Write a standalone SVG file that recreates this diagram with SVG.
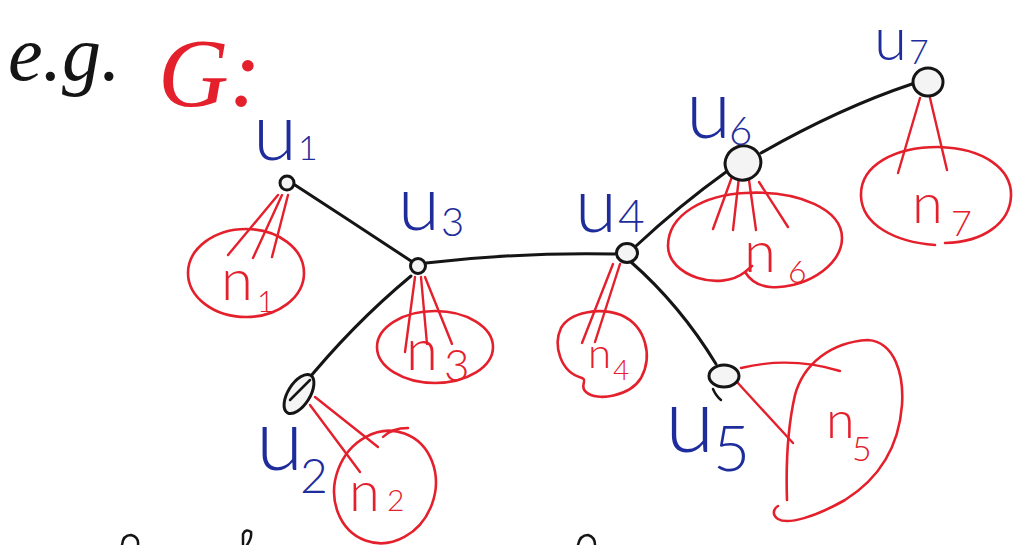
<svg xmlns="http://www.w3.org/2000/svg" width="1013" height="545" viewBox="0 0 1013 545">
  <style>
    .edge { fill: none; stroke: #151515; stroke-width: 3; stroke-linecap: round; }
    .node { fill: #f4f4f4; stroke: #151515; stroke-width: 3; }
    .set { fill: none; stroke: #e4202c; stroke-width: 2.6; stroke-linecap: round; stroke-linejoin: round; }
    .tie { fill: none; stroke: #e4202c; stroke-width: 2.4; stroke-linecap: round; }
    .ink { fill: none; stroke: #151515; stroke-width: 2.5; stroke-linecap: round; }
    .ul { font-family: Lato, "Liberation Sans", sans-serif; font-weight: 300; fill: #1f2d9c; }
    .nl { font-family: Lato, "Liberation Sans", sans-serif; font-weight: 300; fill: #e4202c; }
    .hd { font-family: "Liberation Serif", serif; font-style: italic; }
  </style>
  <rect width="1013" height="545" fill="#ffffff"/>

  <!-- heading -->
  <text class="hd" x="8" y="80" font-size="78" fill="#151515">e.g.</text>
  <text class="hd" x="158" y="106" font-size="98" fill="#e4202c">G:</text>

  <!-- tree edges -->
  <g id="connectors">
    <path class="edge" d="M295,185 Q352,222 411,261"/>
    <path class="edge" d="M426,263 Q520,252 615,254"/>
    <path class="edge" d="M411,276 Q352,325 301,388"/>
    <path class="edge" d="M636,246 Q680,205 726,172"/>
    <path class="edge" d="M761,153 Q840,108 912,84"/>
    <path class="edge" d="M631,262 Q680,305 716,364"/>
  </g>

  <!-- red subsets hanging from each vertex -->
  <g id="set-n1">
    <ellipse class="set" cx="246" cy="273" rx="58" ry="44"/>
    <path class="tie" d="M278,195 L228,255 M282,195 L253,258 M288,195 L272,257"/>
    <text class="nl" x="221" y="300" font-size="58">n</text>
    <text class="nl" x="257" y="312" font-size="30">1</text>
  </g>
  <g id="set-n3">
    <ellipse class="set" cx="435" cy="347" rx="58" ry="36"/>
    <path class="tie" d="M415,277 L405,352 M421,277 L427,344 M425,277 L452,344"/>
    <text class="nl" x="406" y="370" font-size="58">n</text>
    <text class="nl" x="444" y="381" font-size="44">3</text>
  </g>
  <g id="set-n2">
    <ellipse class="set" cx="385" cy="487" rx="50" ry="57" transform="rotate(20 385 487)"/>
    <path class="tie" d="M315,397 L378,447 M310,405 L360,472 M383,437 Q392,428 408,428"/>
    <text class="nl" x="349" y="511" font-size="56">n</text>
    <text class="nl" x="387" y="511" font-size="30">2</text>
  </g>
  <g id="set-n4">
    <path class="set" d="M582,378 C560,372 553,345 561,328 C570,312 600,307 621,315 C646,326 653,356 641,378 C630,396 597,402 586,392 C579,386 588,380 582,378 Z"/>
    <path class="tie" d="M613,264 L582,343 M620,264 L595,342"/>
    <text class="nl" x="588" y="368" font-size="42">n</text>
    <text class="nl" x="613" y="380" font-size="28">4</text>
  </g>
  <g id="set-n5">
    <path class="set" d="M787,500 C786,470 787,430 795,395 C803,365 830,342 868,340 C895,342 904,375 902,405 C899,445 880,478 845,500 C815,517 788,525 778,519 C772,515 773,509 778,506"/>
    <path class="tie" d="M741,368 Q790,356 840,371 M737,382 L793,443"/>
    <text class="nl" x="826" y="438" font-size="52">n</text>
    <text class="nl" x="852" y="461" font-size="34">5</text>
  </g>
  <g id="set-n6">
    <path class="set" d="M745,272 C720,292 668,276 668,246 C668,214 705,195 745,193 C800,190 842,210 842,238 C842,268 800,290 770,287 C758,286 750,280 745,272 M745,272 L752,266"/>
    <path class="tie" d="M733,174 L713,229 M739,177 L733,230 M749,180 L756,230 M759,182 L788,227"/>
    <text class="nl" x="744" y="272" font-size="58">n</text>
    <text class="nl" x="788" y="283" font-size="32">6</text>
  </g>
  <g id="set-n7">
    <path class="set" d="M935,245 C895,242 862,225 861,196 C860,165 895,147 938,147 C985,148 1012,170 1011,196 C1010,222 985,242 945,243"/>
    <path class="tie" d="M920,98 L898,173 M930,98 L947,170"/>
    <text class="nl" x="912" y="223" font-size="56">n</text>
    <text class="nl" x="951" y="236" font-size="36">7</text>
  </g>

  <!-- vertices -->
  <g id="u1">
    <circle class="node" cx="287" cy="183" r="7"/>
    <text class="ul" x="253" y="160" font-size="80">u</text>
    <text class="ul" x="298" y="160" font-size="34">1</text>
  </g>
  <g id="u3">
    <circle class="node" cx="418" cy="266" r="7.5"/>
    <text class="ul" x="398" y="230" font-size="76">u</text>
    <text class="ul" x="441" y="236" font-size="40">3</text>
  </g>
  <g id="u4">
    <ellipse class="node" cx="627" cy="253" rx="10.5" ry="9.5"/>
    <text class="ul" x="575" y="232" font-size="76">u</text>
    <text class="ul" x="618" y="232" font-size="46">4</text>
  </g>
  <g id="u6">
    <ellipse class="node" cx="743" cy="163" rx="18" ry="17" transform="rotate(-20 743 163)"/>
    <text class="ul" x="686" y="138" font-size="82">u</text>
    <text class="ul" x="729" y="145" font-size="40">6</text>
  </g>
  <g id="u7">
    <ellipse class="node" cx="928" cy="82" rx="15" ry="14"/>
    <text class="ul" x="874" y="60" font-size="60">u</text>
    <text class="ul" x="909" y="64" font-size="34">7</text>
  </g>
  <g id="u2">
    <ellipse class="node" cx="299" cy="394" rx="22" ry="11" transform="rotate(-58 299 394)"/>
    <path class="ink" d="M310,380 L290,400"/>
    <text class="ul" x="256" y="470" font-size="86">u</text>
    <text class="ul" x="300" y="493" font-size="48">2</text>
  </g>
  <g id="u5">
    <ellipse class="node" cx="724" cy="376" rx="15" ry="11"/>
    <path class="ink" d="M713,389 Q716,396 721,400"/>
    <text class="ul" x="665" y="452" font-size="90">u</text>
    <text class="ul" x="713" y="471" font-size="64">5</text>
  </g>

  <!-- strokes of the next line, cut by the page edge -->
  <path class="ink" d="M122,545 Q123,535 131,535 Q139,537 138,545"/>
  <path class="ink" d="M243,545 L243,534 Q246,528 251,532 Q252,538 247,545"/>
  <path class="ink" d="M578,545 Q580,535 588,535 Q595,537 595,545"/>
</svg>
